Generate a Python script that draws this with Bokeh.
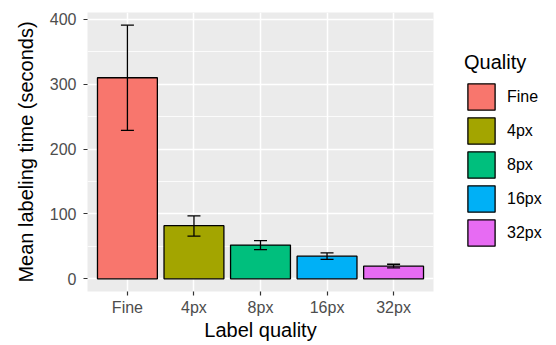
from bokeh.plotting import figure
from bokeh.layouts import row
from bokeh.models import (ColumnDataSource, Range1d, FixedTicker, SingleIntervalTicker,
                          Whisker, TeeHead, Legend, LegendItem)
from bokeh.embed import file_html
from bokeh.resources import INLINE

categories = ["Fine", "4px", "8px", "16px", "32px"]
means = [310, 82, 52, 35, 19.5]
lower = [229, 66, 45, 30, 17]
upper = [391, 97, 59, 40, 22.5]
colors = ["#F8766D", "#A3A500", "#00BF7D", "#00B0F6", "#E76BF3"]

xpos = list(range(1, len(categories) + 1))
src = ColumnDataSource(dict(x=xpos, top=means, lower=lower, upper=upper,
                            color=colors, cat=categories))

FONT = "Liberation Sans"

p = figure(width=436, height=345, output_backend="svg", toolbar_location=None,
           x_range=Range1d(0.4, 5.6), y_range=Range1d(-19.5, 410.6),
           min_border_left=87, min_border_right=3, min_border_top=12,
           min_border_bottom=54)
p.background_fill_color = "#EBEBEB"
p.border_fill_color = "white"
p.outline_line_color = None

r = p.vbar(x="x", top="top", bottom=0, width=0.9, source=src,
           fill_color="color", line_color="black", line_width=1.3)

w = Whisker(base="x", lower="lower", upper="upper", source=src,
            line_color="black", line_width=1.3, level="overlay",
            upper_head=TeeHead(size=13, line_color="black", line_width=1.3),
            lower_head=TeeHead(size=13, line_color="black", line_width=1.3))
p.add_layout(w)

# axes
p.xaxis.ticker = FixedTicker(ticks=xpos)
p.xaxis.major_label_overrides = {i: c for i, c in zip(xpos, categories)}
p.yaxis.ticker = SingleIntervalTicker(interval=100, num_minor_ticks=2)
for ax in (p.xaxis[0], p.yaxis[0]):
    ax.axis_line_color = None
    ax.major_tick_line_color = "#333333"
    ax.major_tick_line_width = 1.2
    ax.major_tick_out = 4
    ax.major_tick_in = 0
    ax.minor_tick_line_color = None
    ax.major_label_text_font = FONT
    ax.major_label_text_font_size = "16px"
    ax.major_label_text_color = "#4D4D4D"
    ax.axis_label_text_font = FONT
    ax.axis_label_text_font_size = "20px"
    ax.axis_label_text_font_style = "normal"
    ax.axis_label_text_color = "black"
p.xaxis.axis_label = "Label quality"
p.yaxis.axis_label = "Mean labeling time (seconds)"
p.xaxis.major_label_standoff = 3
p.yaxis.major_label_standoff = 7
p.xaxis.axis_label_standoff = 0
p.yaxis.axis_label_standoff = 10

p.xgrid.ticker = FixedTicker(ticks=xpos)
p.xgrid.grid_line_color = "white"
p.xgrid.grid_line_width = 1.5
p.ygrid.grid_line_color = "white"
p.ygrid.grid_line_width = 1.5
p.ygrid.minor_grid_line_color = "white"
p.ygrid.minor_grid_line_width = 0.8

# legend panel
lg = figure(width=120, height=345, output_backend="svg", toolbar_location=None,
            x_range=Range1d(0.4, 5.6), y_range=Range1d(-19.5, 410.6),
            x_axis_type=None, y_axis_type=None,
            min_border_left=0, min_border_top=12, min_border_right=0,
            min_border_bottom=54)
lg.grid.visible = False
lg.outline_line_color = None
lg.background_fill_color = "white"
lg.border_fill_color = "white"
lr = lg.vbar(x="x", top="top", bottom=0, width=0.9, source=src,
             fill_color="color", line_color="black", line_width=1.3)
lr.visible = False

items = [LegendItem(label=c, renderers=[lr], index=i) for i, c in enumerate(categories)]
legend = Legend(items=items, title="Quality", location=(28, 42),
                glyph_width=34, glyph_height=33, spacing=1, padding=0,
                margin=0, label_text_font=FONT, label_text_font_size="16px",
                title_text_font=FONT, title_text_font_size="20px",
                title_text_font_style="normal", title_text_color="black",
                label_text_color="black", title_standoff=6,
                label_standoff=9, inactive_fill_alpha=0,
                background_fill_color=None, border_line_color=None)
lg.add_layout(legend, "center")

layout = row(p, lg, spacing=0)
open("out.html", "w").write(file_html(layout, INLINE))
